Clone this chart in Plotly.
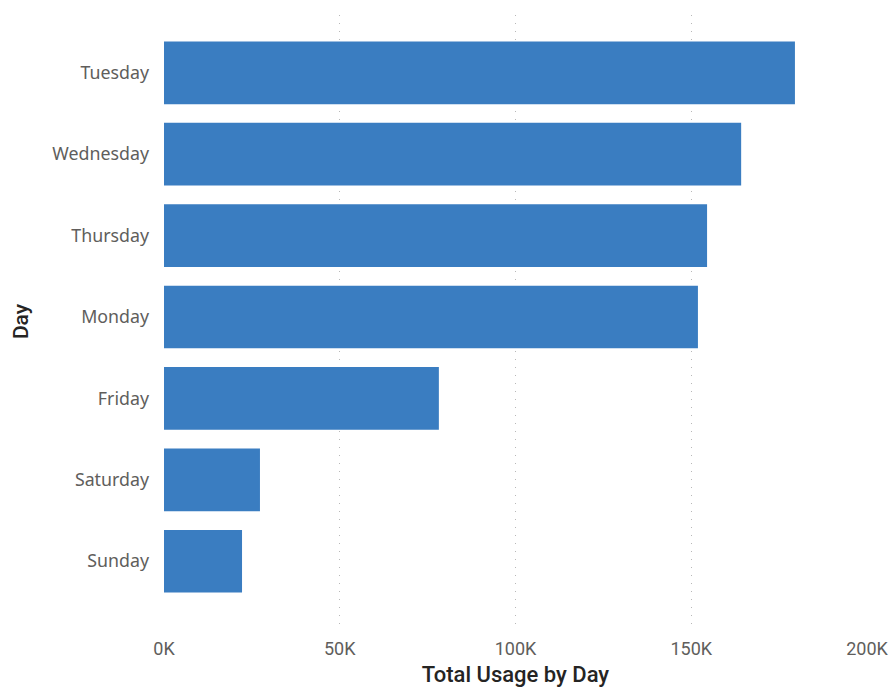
import plotly.graph_objects as go

days = ["Tuesday", "Wednesday", "Thursday", "Monday", "Friday", "Saturday", "Sunday"]
usage = [179500, 164200, 154500, 151900, 78200, 27300, 22200]
tick_vals = [0, 50000, 100000, 150000, 200000]
tick_text = ["0K", "50K", "100K", "150K", "200K"]

din = "Roboto, DejaVu Sans Condensed, sans-serif"

fig = go.Figure(go.Bar(
    x=usage, y=days, orientation="h",
    marker=dict(color="#3A7DC1", line=dict(width=0)),
))

fig.update_layout(
    width=890, height=687,
    margin=dict(l=164, r=23, t=15, b=59),
    plot_bgcolor="white", paper_bgcolor="white",
    bargap=0.23,
    showlegend=False,
    font=dict(family="Noto Sans, Open Sans, sans-serif", color="#605E5C", size=16),
)
fig.update_xaxes(
    range=[0, 200000], tickvals=tick_vals, ticktext=tick_text,
    showgrid=True, gridcolor="#B8B8B8", griddash="1px,7px", gridwidth=1,
    zeroline=False, showline=False, ticks="",
    ticklabelstandoff=8, ticklabeloverflow="allow", automargin=False,
    tickfont=dict(family=din, size=18, color="#605E5C"),
    title=dict(text="Total Usage by Day", standoff=10,
               font=dict(family=din, size=22, color="#252423", weight=500)),
)
fig.update_yaxes(
    categoryorder="array", categoryarray=days,
    range=[6.82, -0.71], automargin=False,
    showgrid=False, zeroline=False, showline=False, ticks="",
    ticklabelstandoff=14,
    tickfont=dict(size=17.8, color="#605E5C"),
    title=dict(text="Day", standoff=17,
               font=dict(family=din, size=21, color="#252423", weight=500)),
)

fig.write_html(
    "out.html",
    config={"displayModeBar": False},
    post_script="document.body.style.margin='0';document.body.style.overflow='hidden';",
)
